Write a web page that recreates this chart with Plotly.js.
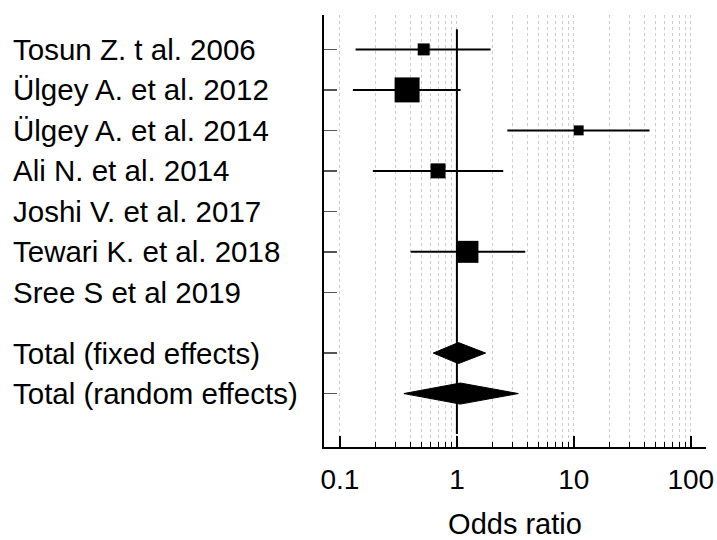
<!DOCTYPE html>
<html>
<head>
<meta charset="utf-8">
<script src="https://cdn.plot.ly/plotly-3.0.1.min.js"></script>
<style>html,body{margin:0;padding:0;background:#fff;}#chart{width:717px;height:540px;}</style>
</head>
<body>
<div id="chart"></div>
<script>
// Studies
const studies = ["Tosun Z. t al. 2006", "Ülgey A. et al. 2012", "Ülgey A. et al. 2014", "Ali N. et al. 2014", "Joshi V. et al. 2017", "Tewari K. et al. 2018", "Sree S et al 2019"];
const studyRows = [0, 1, 2, 3, 4, 5, 6];
const oddsRatio = [0.52, 0.375, 11.0, 0.69, null, 1.23, null];
const ciLower = [0.136, 0.129, 2.70, 0.191, null, 0.402, null];
const ciUpper = [1.94, 1.076, 44.4, 2.49, null, 3.84, null];
const weights = [9.1, 39.6, 6.3, 14.3, null, 30.7, null];

// Pooled estimates
const totals = ["Total (fixed effects)", "Total (random effects)"];
const totalRows = [7.5, 8.5];
const totalOR = [1.03, 1.07];
const totalLower = [0.628, 0.352];
const totalUpper = [1.76, 3.35];

const majorTicks = [0.1, 1, 10, 100];
const majorLabels = ["0.1", "1", "10", "100"];
const minorTicks = [0.2,0.3,0.4,0.5,0.6,0.7,0.8,0.9,2,3,4,5,6,7,8,9,20,30,40,50,60,70,80,90];

const FONT = "Liberation Sans, Arial, sans-serif";
const traces = [];

// Reference line at OR = 1
traces.push({x: [1, 1], y: [-0.5, 9.5], mode: "lines", line: {color: "#000", width: 2}, hoverinfo: "skip", showlegend: false});

// Study estimates with CIs
traces.push({
  x: oddsRatio, y: studyRows, mode: "markers", type: "scatter",
  marker: {symbol: "square", color: "#000", opacity: 1, size: weights.map(w => w == null ? 0 : 3.97 * Math.sqrt(w)), line: {width: 0}},
  error_x: {type: "data", symmetric: false,
    array: oddsRatio.map((v, i) => v == null ? null : ciUpper[i] - v),
    arrayminus: oddsRatio.map((v, i) => v == null ? null : v - ciLower[i]),
    color: "#000", thickness: 2, width: 0},
  showlegend: false
});

// Diamonds for pooled estimates
const hh = 0.26;
totalOR.forEach((v, i) => {
  const r = totalRows[i];
  traces.push({
    x: [totalLower[i], v, totalUpper[i], v, totalLower[i]],
    y: [r, r - hh, r, r + hh, r],
    mode: "lines", fill: "toself", fillcolor: "#000", line: {color: "#000", width: 1},
    showlegend: false, hoverinfo: "skip"
  });
});

const allLabels = studies.concat(totals);
const allRows = studyRows.concat(totalRows);
const annotations = allLabels.map((t, i) => ({
  text: t, xref: "paper", x: 0, xshift: -313, xanchor: "left",
  yref: "y", y: allRows[i], yanchor: "middle", showarrow: false,
  font: {family: FONT, size: 29.5, color: "#000"}
}));

const layout = {
  width: 717, height: 540,
  margin: {l: 324, r: 11, t: 15, b: 93},
  paper_bgcolor: "#fff", plot_bgcolor: "#fff",
  font: {family: FONT, size: 28, color: "#000"},
  xaxis: {
    type: "log", range: [Math.log10(0.073), Math.log10(135)],
    tickmode: "array", tickvals: majorTicks, ticktext: majorLabels,
    tickfont: {family: FONT, size: 28, color: "#000"},
    ticks: "inside", ticklen: 11, tickwidth: 2, tickcolor: "#000",
    showline: true, linecolor: "#000", linewidth: 2,
    showgrid: true, gridcolor: "#cccccc", griddash: "dot", gridwidth: 1,
    zeroline: false,
    ticklabelstandoff: 6,
    minor: {tickmode: "array", tickvals: minorTicks, ticks: "inside", ticklen: 5, tickwidth: 1, tickcolor: "#000",
      showgrid: true, gridcolor: "#cccccc", griddash: "dot", gridwidth: 1},
    title: {text: "Odds ratio", font: {family: FONT, size: 29, color: "#000"}, standoff: 22}
  },
  yaxis: {
    range: [9.82, -0.85],
    tickmode: "array", tickvals: allRows, showticklabels: false,
    ticks: "inside", ticklen: 13, tickwidth: 1.5, tickcolor: "#555",
    showline: true, linecolor: "#000", linewidth: 2,
    showgrid: false, zeroline: false
  },
  annotations: annotations,
  showlegend: false
};

Plotly.newPlot("chart", traces, layout, {staticPlot: true, displayModeBar: false});
</script>
</body>
</html>
